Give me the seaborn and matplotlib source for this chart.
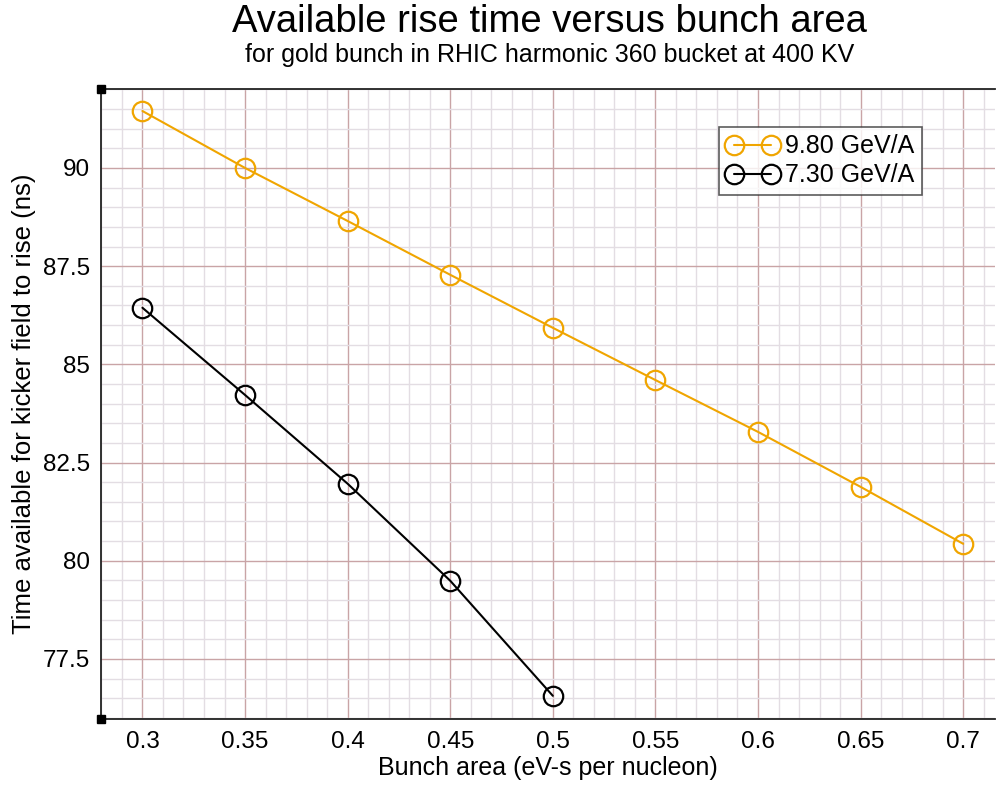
import matplotlib
matplotlib.use("Agg")
import matplotlib.pyplot as plt
import seaborn as sns
import pandas as pd
import numpy as np
from matplotlib.ticker import MultipleLocator, FixedLocator, FixedFormatter

bunch_area_high = [0.30, 0.35, 0.40, 0.45, 0.50, 0.55, 0.60, 0.65, 0.70]
rise_high = [91.45, 90.0, 88.65, 87.28, 85.93, 84.6, 83.28, 81.88, 80.43]
bunch_area_low = [0.30, 0.35, 0.40, 0.45, 0.50]
rise_low = [86.44, 84.22, 81.96, 79.49, 76.56]
series_names = ["9.80 GeV/A", "7.30 GeV/A"]
x_ticks = [0.3, 0.35, 0.4, 0.45, 0.5, 0.55, 0.6, 0.65, 0.7]
x_tick_labels = ["0.3", "0.35", "0.4", "0.45", "0.5", "0.55", "0.6", "0.65", "0.7"]
y_ticks = [77.5, 80, 82.5, 85, 87.5, 90]
y_tick_labels = ["77.5", "80", "82.5", "85", "87.5", "90"]

df = pd.concat([
    pd.DataFrame({"x": bunch_area_high, "y": rise_high, "series": series_names[0]}),
    pd.DataFrame({"x": bunch_area_low, "y": rise_low, "series": series_names[1]}),
], ignore_index=True)

sns.set_style("white")
plt.rcParams["font.family"] = ["Liberation Sans", "DejaVu Sans"]
plt.rcParams["text.color"] = "black"
plt.rcParams["axes.labelcolor"] = "black"

fig = plt.figure(figsize=(9.98, 7.85), dpi=100)
ax = fig.add_axes([0.1012, 0.0841, 0.8958, 0.8025])

palette = {series_names[0]: "#f0a500", series_names[1]: "#000000"}
sns.lineplot(data=df, x="x", y="y", hue="series", palette=palette, ax=ax,
             marker="o", markersize=14, markerfacecolor="none", markeredgewidth=1.6,
             linewidth=1.5, sort=False, legend=False)
for line, name in zip(ax.get_lines(), series_names):
    line.set_markeredgecolor(palette[name])
    line.set_markerfacecolor("none")
    line.set_label(name)

ax.set_xlim(0.2798, 0.7155)
ax.set_ylim(75.97, 92.01)
ax.xaxis.set_major_locator(FixedLocator(x_ticks))
ax.xaxis.set_major_formatter(FixedFormatter(x_tick_labels))
ax.yaxis.set_major_locator(FixedLocator(y_ticks))
ax.yaxis.set_major_formatter(FixedFormatter(y_tick_labels))
ax.xaxis.set_minor_locator(MultipleLocator(0.01))
ax.yaxis.set_minor_locator(MultipleLocator(0.5))
ax.grid(which="minor", color="#e3dde3", linewidth=1.0, zorder=0)
ax.grid(which="major", color="#c9a4a6", linewidth=1.0, zorder=0)
ax.set_axisbelow(True)
ax.tick_params(which="both", length=0, labelsize=17.5, colors="black")
ax.tick_params(axis="y", pad=8)
ax.tick_params(axis="x", pad=9)

for s in ["left", "bottom", "top"]:
    ax.spines[s].set_visible(True)
    ax.spines[s].set_color("#222222")
    ax.spines[s].set_linewidth(1.3)
ax.spines["right"].set_visible(False)

ax.set_xlabel("Bunch area (eV-s per nucleon)", fontsize=18, labelpad=2)
ax.set_ylabel("Time available for kicker field to rise (ns)", fontsize=18.5, labelpad=5)

ax.plot([0, 0], [0, 1], transform=ax.transAxes, marker="s", markersize=6,
        color="black", linestyle="none", clip_on=False, zorder=5)

leg = ax.legend(handles=ax.get_lines()[:2], loc="upper right", bbox_to_anchor=(0.918, 0.94),
                fontsize=18, frameon=True, fancybox=False, edgecolor="#333333",
                numpoints=2, handlelength=2.1, borderpad=0.3, labelspacing=0.2,
                handletextpad=0.25, borderaxespad=0)
leg.get_frame().set_linewidth(1.2)

fig.text(0.5505, 0.972, "Available rise time versus bunch area", ha="center", va="center",
         fontsize=27.5)
fig.text(0.5505, 0.930, "for gold bunch in RHIC harmonic 360 bucket at 400 KV", ha="center",
         va="center", fontsize=18)

fig.savefig("out.png", dpi=100)
